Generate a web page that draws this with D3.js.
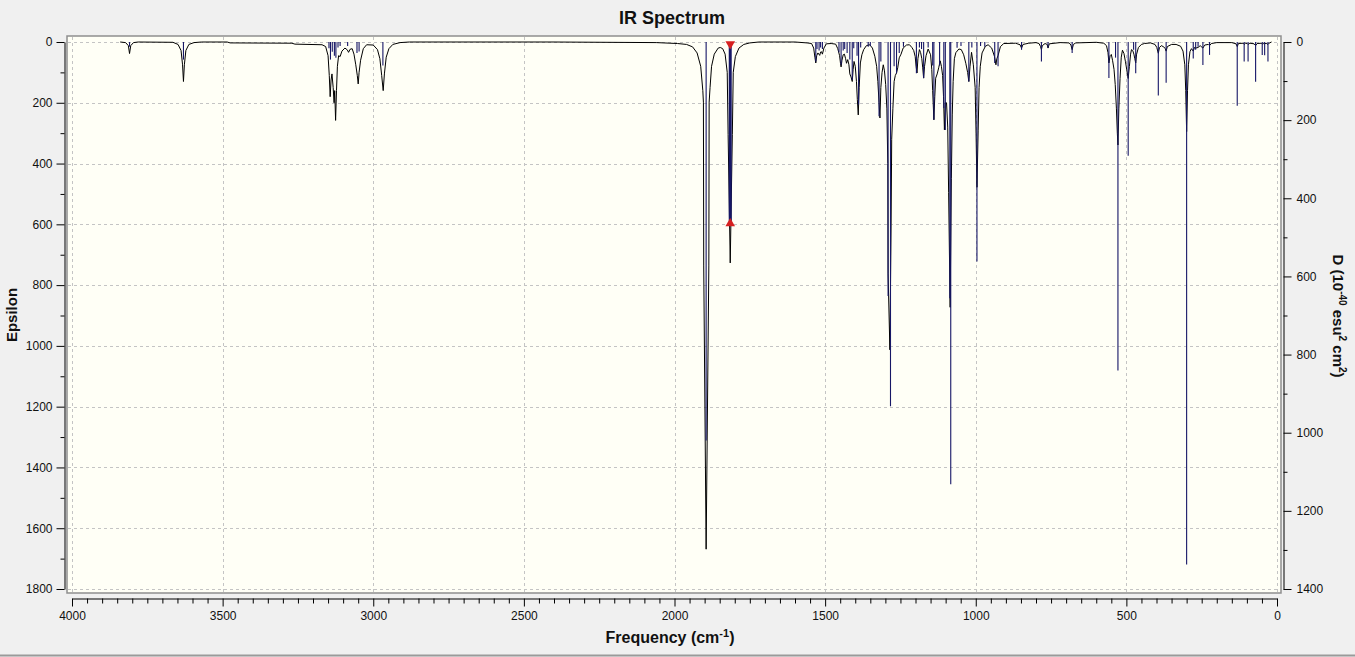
<!DOCTYPE html>
<html>
<head>
<meta charset="utf-8">
<script src="https://cdn.jsdelivr.net/npm/d3@7"></script>
<style>
    body { margin: 0; background: #f0f0f0; overflow: hidden; }
    svg { display: block; }
    text { font-family: "Liberation Sans", Arial, sans-serif; fill: #111; }
    .tick text { font-family: "Liberation Sans Narrow", "Liberation Sans", Arial, sans-serif; font-size: 12px; }
    .ttl { font-weight: bold; }
</style>
</head>
<body>
<svg id="chart"></svg>
<script>
// broadened spectrum (Epsilon, left axis), vertices: [frequency, epsilon]
const epsHigh = [
    [3840, 0], [3822, 2], [3813, 12], [3809, 38], [3805, 12], [3796, 2], [3780, 0],
    [3665, 1], [3648, 8], [3638, 28], [3633, 75], [3630, 130], [3627, 75], [3622, 28], [3612, 8], [3595, 2], [3570, 0],
    [3485, 0], [3475, 3], [3270, 4], [3260, 7], [3170, 9],
    [3158, 15], [3150, 45], [3146, 110], [3143, 180], [3140, 125], [3137, 105], [3133, 150], [3130, 200], [3128, 160],
    [3125, 258], [3122, 160], [3119, 80], [3115, 45], [3110, 48], [3104, 30], [3094, 20], [3086, 26], [3082, 34],
    [3077, 24], [3070, 22], [3064, 40], [3058, 75], [3053, 110], [3050, 138], [3047, 100], [3042, 60], [3033, 22],
    [3022, 9], [3000, 10], [2986, 25], [2978, 55], [2972, 110], [2967, 160], [2963, 105], [2957, 50], [2948, 22],
    [2935, 8], [2911, 2], [2880, 0]
];
const epsCarbonyl = [
    [2400, 0], [2060, 2], [1990, 5], [1960, 8], [1940, 16], [1925, 36], [1913, 80], [1906, 160], [1904, 198],
    [1903, 737], [1895, 1669], [1886, 737], [1885, 198], [1882, 150], [1877, 80], [1868, 40], [1855, 20], [1848, 18],
    [1840, 22], [1832, 40], [1825, 100], [1822, 305], [1815, 727], [1808, 305], [1805, 100], [1798, 48], [1786, 20],
    [1770, 8], [1750, 3], [1720, 0]
];
const epsMid = [
    [1600, 0], [1560, 3], [1545, 5], [1538, 20], [1534, 50], [1531, 69], [1528, 45], [1524, 36], [1521, 40], [1518, 44],
    [1515, 33], [1512, 32], [1509, 40], [1504, 20], [1496, 6], [1480, 5], [1465, 7], [1458, 22], [1452, 45], [1449, 70],
    [1447, 82], [1444, 60], [1440, 42], [1436, 40], [1432, 55], [1429, 70], [1425, 58], [1421, 75], [1418, 105],
    [1414, 115], [1410, 130], [1407, 90], [1404, 64], [1400, 80], [1396, 130], [1393, 190], [1390, 240], [1387, 150],
    [1383, 69], [1378, 42], [1372, 25], [1363, 12], [1352, 9], [1343, 20], [1335, 47], [1329, 80], [1325, 130],
    [1321, 200], [1318, 250], [1315, 150], [1311, 100], [1307, 75], [1303, 95], [1299, 140], [1295, 220], [1292, 400],
    [1291, 763], [1285, 1013], [1281, 600], [1279, 320], [1275, 218], [1271, 130], [1267, 110], [1263, 102], [1259, 85],
    [1254, 52], [1248, 40], [1241, 20], [1230, 10], [1220, 9], [1212, 18], [1206, 28], [1201, 48], [1198, 80],
    [1195, 102], [1192, 55], [1187, 25], [1183, 35], [1179, 55], [1176, 85], [1173, 119], [1170, 80], [1165, 45],
    [1158, 23], [1150, 42], [1146, 90], [1143, 160], [1139, 256], [1136, 180], [1133, 119], [1128, 105], [1123, 85],
    [1118, 62], [1114, 80], [1110, 110], [1107, 180], [1104, 289], [1101, 200], [1097, 200], [1093, 280], [1090, 496],
    [1085, 873], [1081, 450], [1078, 240], [1075, 130], [1071, 55], [1066, 35], [1056, 23], [1048, 25], [1040, 42],
    [1033, 70], [1027, 100], [1023, 130], [1019, 80], [1014, 34], [1008, 75], [1002, 150], [999, 300], [996, 478],
    [992, 290], [989, 150], [985, 80], [979, 36], [968, 14], [959, 9], [947, 20], [938, 47], [933, 75], [930, 55],
    [926, 45], [918, 15], [907, 5], [868, 4], [853, 9], [848, 20], [843, 8], [824, 4], [800, 2]
];
const epsLow = [
    [790, 5], [785, 15], [782, 25], [779, 12], [770, 5], [763, 8], [760, 20], [756, 6], [720, 2], [690, 3], [684, 10],
    [680, 25], [676, 8], [668, 3], [600, 1], [575, 4], [566, 12], [561, 35], [558, 69], [554, 45], [550, 41], [546, 60],
    [541, 90], [537, 140], [533, 220], [530, 300], [528, 339], [525, 220], [521, 120], [517, 50], [513, 27], [508, 38],
    [503, 65], [499, 90], [494, 120], [490, 80], [486, 40], [483, 25], [479, 28], [475, 40], [472, 55], [469, 69],
    [466, 40], [460, 18], [450, 8], [440, 5], [420, 3], [405, 8], [399, 18], [394, 37], [390, 18], [384, 12], [376, 16],
    [371, 22], [368, 30], [364, 15], [350, 8], [335, 8], [320, 14], [312, 30], [306, 75], [303, 160], [300, 295],
    [297, 160], [294, 75], [289, 32], [284, 22], [278, 30], [274, 18], [270, 20], [262, 18], [255, 12], [246, 20],
    [240, 10], [228, 8], [224, 12], [218, 5], [200, 2], [150, 2], [136, 6], [132, 15], [128, 5], [112, 4], [109, 8],
    [104, 4], [99, 5], [96, 8], [90, 4], [76, 6], [71, 12], [66, 5], [52, 4], [49, 7], [44, 5], [41, 6], [36, 4],
    [30, 8], [25, 3], [18, 0]
];

// stick spectrum (D, right axis): [frequency, D]
const sticksHigh = [
    [3809, 12], [3630, 45], [3147, 16], [3142, 45], [3136, 25], [3129, 35], [3124, 40], [3117, 14], [3110, 10],
    [3085, 10], [3054, 28], [3047, 24], [2968, 60]
];
const sticksCarbonyl = [[1895, 1020], [1815, 467]];
const sticksMid = [
    [1531, 50], [1527, 18], [1520, 22], [1515, 14], [1509, 18], [1454, 26], [1447, 58], [1440, 22], [1435, 18],
    [1427, 28], [1418, 45], [1410, 97], [1405, 16], [1394, 35], [1389, 160], [1382, 14], [1357, 12], [1350, 10],
    [1321, 190], [1315, 50], [1291, 650], [1283, 932], [1271, 62], [1263, 80], [1254, 28], [1240, 12], [1197, 80],
    [1187, 14], [1180, 18], [1173, 92], [1158, 14], [1143, 60], [1139, 199], [1120, 60], [1106, 169], [1101, 225],
    [1086, 656], [1083, 1132], [1062, 15], [1049, 10], [1023, 101], [1013, 14], [996, 562], [984, 10], [970, 12],
    [937, 54], [926, 62], [848, 20]
];
const sticksLow = [
    [782, 50], [760, 15], [680, 28], [558, 92], [536, 40], [528, 841], [494, 291], [476, 20], [469, 80], [394, 137],
    [368, 104], [300, 1337], [278, 42], [270, 20], [262, 12], [246, 59], [224, 33], [132, 163], [109, 50], [96, 50],
    [71, 102], [49, 33], [41, 34], [30, 50]
];
const selectedFreq = 1815;

// axis ticks
const freqTicks = d3.range(4000, -1, -500);
const freqMinor = d3.range(4000, -1, -50).filter(d => d % 500 !== 0);
const epsTicks = d3.range(0, 1801, 200);
const epsMinor = d3.range(100, 1800, 200);
const dTicks = d3.range(0, 1401, 200);
const dMinor = d3.range(100, 1400, 200);

const W = 1355, H = 657;
const svg = d3.select('#chart').attr('width', W).attr('height', H);

let x = d3.scaleLinear().domain([4000, 0]).range([72, 1277]);
let yEps = d3.scaleLinear().domain([0, 1800]).range([42, 589]);
let yD = d3.scaleLinear().domain([0, 1400]).range([42, 589]);
let fmt = d3.format('d');

// plot frame
svg.append('rect')
    .attr('x', 67).attr('y', 36).attr('width', 1214).attr('height', 557)
    .attr('fill', '#fffff6').attr('stroke', '#8e8e8e').attr('stroke-width', 1.5);

svg.append('clipPath').attr('id', 'clip')
    .append('rect').attr('x', 68).attr('y', 37).attr('width', 1212).attr('height', 555);

// grid
let grid = svg.append('g').attr('stroke', '#c4c4c4').attr('stroke-dasharray', '3,3').attr('stroke-width', 1);
grid.selectAll('.vg').data(freqTicks).enter().append('line')
    .attr('x1', d => Math.round(x(d)) + 0.5).attr('x2', d => Math.round(x(d)) + 0.5)
    .attr('y1', 37).attr('y2', 592);
grid.selectAll('.hg').data(epsTicks).enter().append('line')
    .attr('x1', 68).attr('x2', 1280)
    .attr('y1', d => Math.round(yEps(d)) + 0.5).attr('y2', d => Math.round(yEps(d)) + 0.5);

// epsilon curve
let curve = [].concat(epsHigh, epsCarbonyl, epsMid, epsLow);
let line = d3.line().x(d => x(d[0])).y(d => yEps(d[1]));
let plot = svg.append('g').attr('clip-path', 'url(#clip)');
plot.append('path')
    .datum(curve)
    .attr('d', line)
    .attr('fill', 'none')
    .attr('stroke', '#000')
    .attr('stroke-width', 1);

// sticks
let sticks = [].concat(sticksHigh, sticksCarbonyl, sticksMid, sticksLow);
plot.append('g').selectAll('line').data(sticks).enter().append('line')
    .attr('x1', d => x(d[0])).attr('x2', d => x(d[0]))
    .attr('y1', yD(0)).attr('y2', d => yD(d[1]))
    .attr('stroke', '#161666')
    .attr('stroke-width', d => d[0] === selectedFreq ? 3 : 1.1);

// selected mode markers
let sel = sticks.find(d => d[0] === selectedFreq);
svg.append('path')
    .attr('d', d3.symbol(d3.symbolTriangle, 40))
    .attr('transform', `translate(${x(sel[0])}, ${yD(0) + 2}) rotate(180)`)
    .attr('fill', '#d62020');
svg.append('path')
    .attr('d', d3.symbol(d3.symbolTriangle, 40))
    .attr('transform', `translate(${x(sel[0])}, ${yD(sel[1]) - 1})`)
    .attr('fill', '#d62020');

function style_axis(g) {
    g.selectAll('.domain').attr('stroke', '#000');
    g.selectAll('.tick line').attr('stroke', '#000');
    g.selectAll('.tick text').attr('fill', '#111');
}

// left axis - epsilon
svg.append('g').attr('transform', 'translate(64.5, 0)')
    .call(d3.axisLeft(yEps).tickValues(epsTicks).tickFormat(fmt).tickSize(8).tickSizeOuter(0).tickPadding(4))
    .call(style_axis);
svg.append('g').attr('transform', 'translate(64.5, 0)')
    .call(d3.axisLeft(yEps).tickValues(epsMinor).tickSize(4).tickFormat(''))
    .call(g => g.select('.domain').remove())
    .call(style_axis);

// right axis - D
svg.append('g').attr('transform', 'translate(1283.5, 0)')
    .call(d3.axisRight(yD).tickValues(dTicks).tickFormat(fmt).tickSize(8).tickSizeOuter(0).tickPadding(5))
    .call(style_axis);
svg.append('g').attr('transform', 'translate(1283.5, 0)')
    .call(d3.axisRight(yD).tickValues(dMinor).tickSize(4).tickFormat(''))
    .call(g => g.select('.domain').remove())
    .call(style_axis);

// bottom axis - frequency
svg.append('g').attr('transform', 'translate(0, 598.5)')
    .call(d3.axisBottom(x).tickValues(freqTicks).tickFormat(fmt).tickSize(8).tickSizeOuter(0).tickPadding(5))
    .call(style_axis);
svg.append('g').attr('transform', 'translate(0, 598.5)')
    .call(d3.axisBottom(x).tickValues(freqMinor).tickSize(5).tickFormat(''))
    .call(g => g.select('.domain').remove())
    .call(style_axis);

// titles
svg.append('text').attr('class', 'ttl')
    .attr('x', 672).attr('y', 24)
    .attr('text-anchor', 'middle').attr('font-size', '18px')
    .text('IR Spectrum');

let xl = svg.append('text').attr('class', 'ttl')
    .attr('x', 670).attr('y', 643)
    .attr('text-anchor', 'middle').attr('font-size', '16px');
xl.append('tspan').text('Frequency (cm');
xl.append('tspan').attr('dy', -6).attr('font-size', '11px').text('-1');
xl.append('tspan').attr('dy', 6).text(')');

svg.append('text').attr('class', 'ttl')
    .attr('transform', 'translate(17, 315) rotate(-90)')
    .attr('text-anchor', 'middle').attr('font-size', '15px')
    .text('Epsilon');

let yr = svg.append('text').attr('class', 'ttl')
    .attr('transform', 'translate(1333, 316) rotate(90)')
    .attr('text-anchor', 'middle').attr('font-size', '15px');
yr.append('tspan').text('D (10');
yr.append('tspan').attr('dy', -6).attr('font-size', '10px').text('-40');
yr.append('tspan').attr('dy', 6).text(' esu');
yr.append('tspan').attr('dy', -6).attr('font-size', '10px').text('2');
yr.append('tspan').attr('dy', 6).text(' cm');
yr.append('tspan').attr('dy', -6).attr('font-size', '10px').text('2');
yr.append('tspan').attr('dy', 6).text(')');

// window bottom edge
svg.append('line').attr('x1', 0).attr('x2', W).attr('y1', 655.5).attr('y2', 655.5)
    .attr('stroke', '#9a9a9a').attr('stroke-width', 2);
</script>
</body>
</html>
